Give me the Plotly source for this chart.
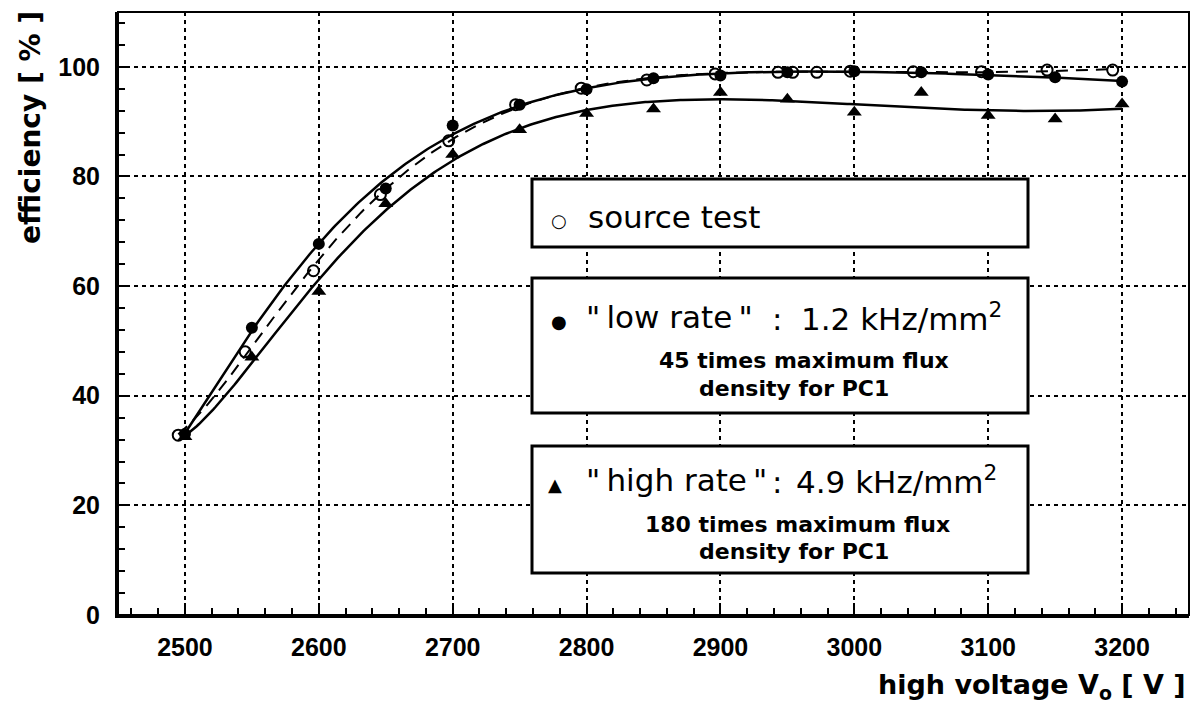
import numpy as np
import plotly.graph_objects as go

# ---------------- data ----------------
volt_rate = [2500, 2550, 2600, 2650, 2700, 2750, 2800, 2850, 2900, 2950, 3000, 3050, 3100, 3150, 3200]
low_rate = [33.0, 52.4, 67.7, 77.8, 89.3, 93.1, 95.9, 97.9, 98.4, 99.0, 99.2, 99.0, 98.6, 98.1, 97.3]
high_rate = [32.5, 47.0, 59.0, 75.0, 84.0, 88.5, 91.5, 92.3, 95.3, 94.1, 91.7, 95.3, 91.1, 90.5, 93.2]

volt_source = [2495, 2545, 2596, 2646, 2697, 2747, 2796, 2845, 2896, 2943, 2954, 2972, 2997, 3044, 3095, 3144, 3193]
source_test = [32.8, 48.0, 62.8, 76.7, 86.5, 93.1, 96.1, 97.6, 98.7, 99.0, 99.0, 99.0, 99.2, 99.1, 99.1, 99.4, 99.4]

x_ticks = [2500, 2600, 2700, 2800, 2900, 3000, 3100, 3200]
y_ticks = [0, 20, 40, 60, 80, 100]
x_range = [2450, 3250]
y_range = [0, 110]


def basis(x):
    t = (np.asarray(x, float) - 2500.0) / 100.0
    return np.column_stack([np.ones_like(t), np.exp(-t / 1.3), np.exp(-2 * t / 1.3),
                            t / 7, (t / 7) ** 2, (t / 7) ** 3])


def fitted(x, y):
    """Least-squares saturation fit (exponential rise + slow polynomial trend)."""
    coef, *_ = np.linalg.lstsq(basis(x), np.asarray(y, float), rcond=None)
    grid = np.linspace(min(x), max(x), 400)
    return grid, basis(grid) @ coef


fig = go.Figure()

gx, gy = fitted(volt_rate, low_rate)
fig.add_trace(go.Scatter(x=gx, y=gy, mode="lines", line=dict(color="black", width=2.5), hoverinfo="skip"))
gx, gy = fitted(volt_rate, high_rate)
fig.add_trace(go.Scatter(x=gx, y=gy, mode="lines", line=dict(color="black", width=2.5), hoverinfo="skip"))
gx, gy = fitted(volt_source, source_test)
fig.add_trace(go.Scatter(x=gx, y=gy, mode="lines", line=dict(color="black", width=2, dash="12px,8px"), hoverinfo="skip"))

fig.add_trace(go.Scatter(x=volt_source, y=source_test, mode="markers", name="source test",
                         marker=dict(symbol="circle-open", size=11, color="black", line=dict(width=2, color="black"))))
fig.add_trace(go.Scatter(x=volt_rate, y=low_rate, mode="markers", name="low rate",
                         marker=dict(symbol="circle", size=12, color="black")))
fig.add_trace(go.Scatter(x=volt_rate, y=high_rate, mode="markers", name="high rate",
                         marker=dict(symbol="triangle-up", size=13, color="black")))

L, R, T, B = 118, 3, 12, 90
W, H = 1192, 705
PW, PH = W - L - R, H - T - B


def px(xp):
    return (xp - L) / PW


def py(yp):
    return (H - B - yp) / PH


shapes = [dict(type="rect", xref="paper", yref="paper", x0=0, y0=0, x1=1, y1=1,
               line=dict(color="black", width=2), layer="above")]
for (y0, y1) in [(179, 247), (278, 413), (446, 573)]:
    shapes.append(dict(type="rect", xref="paper", yref="paper", x0=px(532), x1=px(1028),
                       y0=py(y1), y1=py(y0), fillcolor="white",
                       line=dict(color="black", width=3), layer="above"))

FONT = "DejaVu Sans"
ann = []


def add(text, xp, yp, size, xanchor="left", weight="normal", angle=0):
    ann.append(dict(text=text, xref="paper", yref="paper", x=px(xp), y=py(yp),
                    xanchor=xanchor, yanchor="middle", showarrow=False, textangle=angle,
                    font=dict(family=FONT, size=size, color="black", weight=weight)))


Q = '"'
TS = "\u2009"
# legend box 1
add("○", 559, 220, 18, "center")
add("source test", 586, 217, 31)
# legend box 2
add("●", 559, 321, 18, "center")
add(Q + TS + "low rate" + TS + Q, 584, 317, 31)
add(":", 777, 319, 31, "center")
add("1.2 kHz/mm<sup>2</sup>", 799, 317, 31)
add("45 times maximum flux", 804, 361, 22, "center", weight="bold")
add("density for PC1", 794, 388, 22, "center", weight="bold")
# legend box 3
add("▲", 555, 484, 18, "center")
add(Q + TS + "high rate" + TS + Q, 584, 480, 31)
add(":", 777, 482, 31, "center")
add("4.9 kHz/mm<sup>2</sup>", 794, 480, 31)
add("180 times maximum flux", 797, 524, 22, "center", weight="bold")
add("density for PC1", 794, 551, 22, "center", weight="bold")

# axis titles
add("efficiency [ % ]", 30, 128, 28, "center", weight="bold", angle=-90)
ann.append(dict(text="high voltage V<sub>o</sub> [ V ]", xref="paper", yref="paper", x=px(1188),
                y=py(686), xanchor="right", yanchor="middle", showarrow=False,
                font=dict(family=FONT, size=27, color="black", weight="bold")))

tickfont = dict(family="Liberation Sans", size=25, color="black", weight="bold")
grid = dict(showgrid=True, gridcolor="black", gridwidth=2, griddash="4px,4px",
            showline=True, linecolor="black", linewidth=3, zeroline=False,
            ticks="inside", ticklen=12, tickwidth=2, tickcolor="black", tickfont=tickfont)

fig.update_layout(
    width=W, height=H, margin=dict(l=L, r=R, t=T, b=B),
    paper_bgcolor="white", plot_bgcolor="white", showlegend=False,
    xaxis=dict(range=x_range, tickvals=x_ticks, ticktext=[str(v) for v in x_ticks],
               ticklabelstandoff=8,
               minor=dict(dtick=20, tick0=2500, ticks="inside", ticklen=7, tickwidth=2, tickcolor="black", showgrid=False),
               **grid),
    yaxis=dict(range=y_range, tickvals=y_ticks, ticktext=[str(v) for v in y_ticks],
               ticklabelstandoff=10,
               minor=dict(dtick=4, tick0=0, ticks="inside", ticklen=7, tickwidth=2, tickcolor="black", showgrid=False),
               **grid),
    shapes=shapes, annotations=ann,
)

fig.write_html("out.html", config={"displayModeBar": False},
               post_script="document.body.style.margin='0px';document.body.style.overflow='hidden';")
